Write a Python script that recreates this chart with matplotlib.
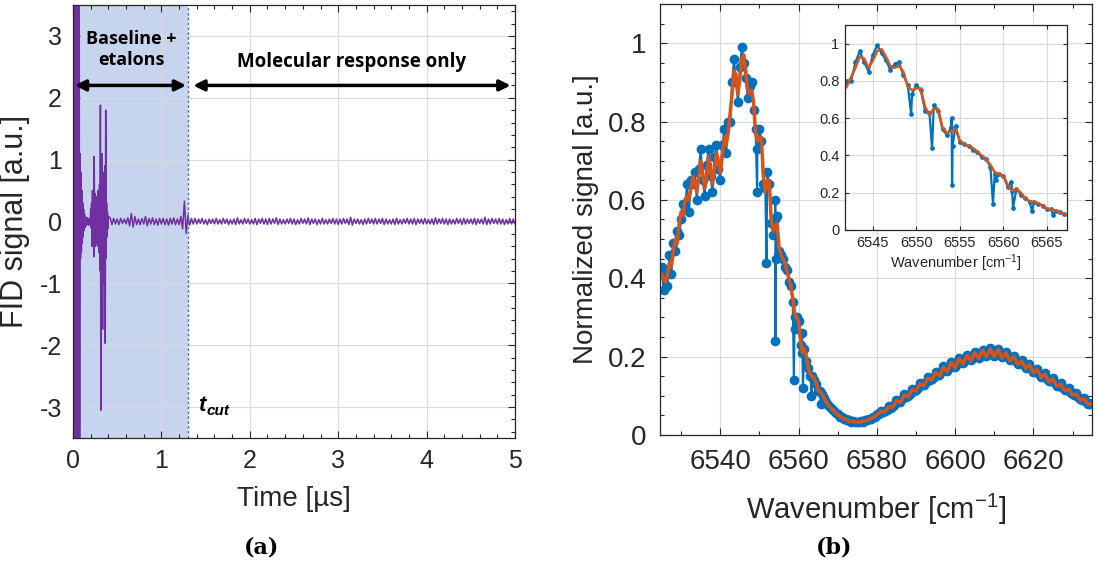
import numpy as np
import matplotlib
matplotlib.use("Agg")
import matplotlib.pyplot as plt
from matplotlib.ticker import MultipleLocator

plt.rcParams['font.family'] = ['Liberation Sans', 'DejaVu Sans']
plt.rcParams['mathtext.fontset'] = 'custom'
plt.rcParams['mathtext.rm'] = 'Liberation Sans'
plt.rcParams['mathtext.it'] = 'Liberation Sans:italic'
plt.rcParams['mathtext.bf'] = 'Liberation Sans:bold'
plt.rcParams['axes.unicode_minus'] = False

TXT = '#262626'

# ---- (a) FID trace ----
t_cut = 1.3
# first 0.4 us sampled every 5 ns
sig_early = [6, -6, 6, -6, 6, -6, 6, -6, 6, -6,
             6, -6, 5, -5, 4, -4, 1.1, -0.6, 0.8, -0.5,
             0.5, -0.35, 0.3, -0.25, 0.2, -0.15, 0.12, -0.1, 0.08, -0.07,
             0.06, -0.05, 0.06, -0.04, 0.05, -0.06, 0.04, -0.03, 0.05, -0.05,
             0.2, -0.1, 0.3, -0.4, 0.5, -0.3, 0.4, -0.57, 1.05, -0.3,
             0.45, -0.4, 0.35, -0.35, 0.4, -0.3, 0.5, -0.4, 0.45, -0.5,
             0.6, -0.8, 1.88, -3.05, 0.9, -0.9, 1.1, -1.74, 0.8, -1.0,
             0.7, -0.8, 0.9, -1.97, 1.8, -0.6, 0.3, -0.25, 0.15, -0.12,
             0.08]
# 0.42 .. 5.00 us sampled every 20 ns
sig_late = [0.06, -0.05, 0.05, -0.04, 0.04, -0.05, 0.05, -0.03, 0.04, -0.04,
            0.06, -0.07, 0.13, -0.09, 0.08, -0.05, 0.04, -0.05, 0.05, -0.04,
            0.08, -0.07, 0.05, -0.04, 0.06, -0.05, 0.04, -0.06, 0.05, -0.04,
            0.05, -0.05, 0.04, -0.06, 0.05, -0.04, 0.06, -0.05, 0.04, -0.05,
            0.08, -0.12, 0.33, -0.19, 0.10, -0.06, 0.05, -0.04, 0.05, -0.04,
            0.04, -0.03, 0.05, -0.04, 0.03, -0.05, 0.04, -0.03, 0.04, -0.04,
            0.05, -0.04, 0.03, -0.04, 0.05, -0.03, 0.04, -0.05, 0.03, -0.04,
            0.04, -0.05, 0.06, -0.04, 0.03, -0.04, 0.05, -0.03, 0.04, -0.04,
            0.03, -0.04, 0.05, -0.05, 0.04, -0.03, 0.05, -0.04, 0.04, -0.05,
            0.05, -0.04, 0.04, -0.03, 0.06, -0.05, 0.04, -0.04, 0.03, -0.04,
            0.04, -0.03, 0.05, -0.04, 0.04, -0.05, 0.03, -0.04, 0.05, -0.03,
            0.04, -0.04, 0.06, -0.05, 0.04, -0.03, 0.04, -0.05, 0.03, -0.04,
            0.05, -0.04, 0.03, -0.04, 0.04, -0.03, 0.05, -0.04, 0.04, -0.05,
            0.04, -0.04, 0.05, -0.03, 0.04, -0.05, 0.07, -0.06, 0.04, -0.03,
            0.04, -0.04, 0.03, -0.05, 0.04, -0.04, 0.05, -0.03, 0.04, -0.04,
            0.05, -0.04, 0.04, -0.03, 0.05, -0.05, 0.04, -0.04, 0.03, -0.04,
            0.04, -0.05, 0.05, -0.04, 0.03, -0.04, 0.04, -0.03, 0.05, -0.04,
            0.04, -0.04, 0.05, -0.05, 0.04, -0.03, 0.04, -0.04, 0.05, -0.04,
            0.03, -0.04, 0.04, -0.05, 0.06, -0.04, 0.04, -0.03, 0.05, -0.04,
            0.04, -0.05, 0.04, -0.04, 0.03, -0.04, 0.05, -0.03, 0.04, -0.05,
            0.05, -0.04, 0.04, -0.03, 0.04, -0.04, 0.05, -0.05, 0.04, -0.03,
            0.04, -0.04, 0.07, -0.05, 0.04, -0.04, 0.05, -0.03, 0.04, -0.04,
            0.05, -0.04, 0.04, -0.05, 0.03, -0.04, 0.05, -0.04, 0.04, -0.04]

# ---- (b) spectrum, 0.5 cm-1 grid from 6525 to 6635 ----
wn_start, wn_stop = 6525.0, 6635.0
fit_sig = [0.41, 0.40, 0.39, 0.41, 0.44, 0.43, 0.47, 0.50, 0.49, 0.54,
           0.57, 0.56, 0.60, 0.61, 0.60, 0.63, 0.66, 0.64, 0.62, 0.66,
           0.70, 0.67, 0.63, 0.66, 0.71, 0.68, 0.64, 0.68, 0.72, 0.70,
           0.67, 0.71, 0.76, 0.74, 0.77, 0.82, 0.87, 0.93, 0.92, 0.87,
           0.91, 0.96, 0.97, 0.93, 0.88, 0.87, 0.88, 0.85, 0.77, 0.75,
           0.76, 0.76, 0.66, 0.62, 0.65, 0.65, 0.55, 0.52, 0.53, 0.54,
           0.48, 0.46, 0.45, 0.44, 0.42, 0.40, 0.38, 0.35, 0.31, 0.30,
           0.29, 0.24, 0.21, 0.22, 0.20, 0.17, 0.155, 0.15, 0.145, 0.13,
           0.115, 0.11, 0.105, 0.095, 0.085, 0.078, 0.072, 0.066, 0.061, 0.056,
           0.052, 0.048, 0.045, 0.042, 0.040, 0.038, 0.036, 0.035, 0.034, 0.033,
           0.033, 0.033, 0.034, 0.035, 0.036, 0.038, 0.040, 0.042, 0.045, 0.047,
           0.052, 0.055, 0.059, 0.060, 0.059, 0.065, 0.072, 0.0715, 0.071, 0.0785,
           0.088, 0.0855, 0.083, 0.0925, 0.102, 0.0995, 0.097, 0.1065, 0.116, 0.114,
           0.112, 0.1215, 0.131, 0.1285, 0.126, 0.1355, 0.145, 0.1425, 0.140, 0.149,
           0.160, 0.155, 0.150, 0.161, 0.173, 0.167, 0.161, 0.173, 0.185, 0.1785,
           0.172, 0.1835, 0.195, 0.188, 0.181, 0.192, 0.203, 0.196, 0.189, 0.1995,
           0.210, 0.2025, 0.195, 0.2055, 0.216, 0.208, 0.200, 0.2095, 0.220, 0.210,
           0.200, 0.209, 0.218, 0.2065, 0.196, 0.203, 0.210, 0.199, 0.189, 0.1945,
           0.200, 0.1895, 0.180, 0.1845, 0.189, 0.1795, 0.170, 0.1745, 0.179, 0.169,
           0.159, 0.163, 0.167, 0.157, 0.147, 0.151, 0.155, 0.145, 0.135, 0.139,
           0.143, 0.133, 0.124, 0.127, 0.130, 0.121, 0.113, 0.115, 0.117, 0.109,
           0.102, 0.103, 0.104, 0.097, 0.090, 0.091, 0.092, 0.085, 0.078, 0.079,
           0.080]
raw_sig = [0.43, 0.37, 0.41, 0.38, 0.46, 0.41, 0.49, 0.47, 0.52, 0.51,
           0.55, 0.59, 0.58, 0.64, 0.57, 0.65, 0.64, 0.67, 0.60, 0.68,
           0.73, 0.65, 0.61, 0.69, 0.73, 0.66, 0.62, 0.71, 0.74, 0.68,
           0.65, 0.74, 0.78, 0.72, 0.80, 0.80, 0.90, 0.96, 0.90, 0.85,
           0.94, 0.99, 0.95, 0.91, 0.86, 0.89, 0.90, 0.83, 0.78, 0.73,
           0.78, 0.75, 0.64, 0.63, 0.67, 0.64, 0.54, 0.51, 0.55, 0.56,
           0.47, 0.46, 0.45, 0.43, 0.42, 0.39, 0.38, 0.34, 0.30, 0.30,
           0.29, 0.23, 0.21, 0.22, 0.19, 0.17, 0.15, 0.15, 0.14, 0.13,
           0.113, 0.112, 0.104, 0.094, 0.084, 0.077, 0.071, 0.066, 0.060, 0.055,
           0.053, 0.047, 0.046, 0.041, 0.041, 0.037, 0.037, 0.034, 0.035, 0.032,
           0.034, 0.032, 0.035, 0.034, 0.037, 0.037, 0.041, 0.041, 0.046, 0.046,
           0.053, 0.054, 0.060, 0.059, 0.061, 0.064, 0.074, 0.070, 0.073, 0.077,
           0.090, 0.084, 0.085, 0.091, 0.104, 0.098, 0.099, 0.105, 0.118, 0.113,
           0.114, 0.120, 0.133, 0.127, 0.128, 0.134, 0.147, 0.141, 0.142, 0.148,
           0.162, 0.154, 0.152, 0.160, 0.175, 0.166, 0.163, 0.172, 0.187, 0.177,
           0.174, 0.182, 0.197, 0.187, 0.183, 0.191, 0.205, 0.195, 0.191, 0.198,
           0.212, 0.201, 0.197, 0.204, 0.218, 0.207, 0.202, 0.208, 0.222, 0.209,
           0.202, 0.208, 0.220, 0.205, 0.198, 0.202, 0.212, 0.198, 0.191, 0.193,
           0.202, 0.188, 0.182, 0.183, 0.191, 0.178, 0.172, 0.173, 0.181, 0.168,
           0.161, 0.162, 0.169, 0.156, 0.149, 0.150, 0.157, 0.144, 0.137, 0.138,
           0.145, 0.132, 0.126, 0.126, 0.132, 0.120, 0.115, 0.114, 0.119, 0.108,
           0.104, 0.102, 0.106, 0.096, 0.092, 0.090, 0.094, 0.084, 0.080, 0.078,
           0.082]
# outlier points of the raw measurement
spike_wn = [6549.4, 6551.8, 6554.05, 6554.1, 6554.15, 6558.8, 6559.1,
            6560.9, 6561.1, 6563.3, 6565.7]
spike_sig = [0.62, 0.44, 0.60, 0.24, 0.45, 0.14, 0.27, 0.26, 0.12, 0.10, 0.08]

# ---------------------------------------------------------------
t_early = np.linspace(0.0, 0.4, len(sig_early))
t_late = np.linspace(0.42, 5.0, len(sig_late))
t_all = np.concatenate([t_early, t_late])
fid = np.concatenate([sig_early, sig_late])

wn = np.linspace(wn_start, wn_stop, len(fit_sig))
wn_raw = np.concatenate([wn, spike_wn])
sig_raw = np.concatenate([raw_sig, spike_sig])
order = np.argsort(wn_raw, kind='stable')
wn_raw, sig_raw = wn_raw[order], sig_raw[order]

fig = plt.figure(figsize=(11.01, 5.76), dpi=100)


def style_axes(ax, size, pad=8):
    ax.tick_params(which='both', direction='in', top=True, right=True,
                   colors=TXT, labelsize=size, width=0.8)
    ax.tick_params(which='major', length=5, pad=pad)
    ax.tick_params(which='minor', length=3)
    for s in ax.spines.values():
        s.set_color(TXT)
        s.set_linewidth(0.9)
    ax.grid(True, which='major', color='#dadada', lw=0.8)


# (a)
ax1 = fig.add_axes([0.0663, 0.2396, 0.4015, 0.7517])
ax1.axvspan(0, t_cut, color='#4472C4', alpha=0.3, lw=0)
ax1.plot(t_all, fid, color='#7030A0', lw=1.1)
ax1.axvline(t_cut, color='#4472C4', ls=(0, (2, 1.5)), lw=1)
ax1.set_xlim(0, 5)
ax1.set_ylim(-3.5, 3.5)
ax1.xaxis.set_major_locator(MultipleLocator(1))
ax1.xaxis.set_minor_locator(MultipleLocator(0.2))
ax1.yaxis.set_major_locator(MultipleLocator(1))
ax1.yaxis.set_minor_locator(MultipleLocator(0.2))
style_axes(ax1, 18)
ax1.set_xlabel('Time [µs]', fontsize=20, color=TXT, labelpad=9)
ax1.set_ylabel('FID signal [a.u.]', fontsize=22, color=TXT, labelpad=7)

arr = dict(arrowstyle='<|-|>', color='black', lw=2.5, mutation_scale=16,
           shrinkA=0, shrinkB=0)
ax1.annotate('', xy=(0.02, 2.2), xytext=(1.28, 2.2), arrowprops=arr)
ax1.annotate('', xy=(1.36, 2.2), xytext=(4.95, 2.2), arrowprops=arr)
ax1.text(0.66, 2.78, 'Baseline +\netalons', ha='center', va='center',
         fontsize=13, fontweight='bold', family=['Open Sans', 'DejaVu Sans'],
         linespacing=1.15)
ax1.text(3.15, 2.58, 'Molecular response only', ha='center', va='center',
         fontsize=13.5, fontweight='bold', family=['Open Sans', 'DejaVu Sans'])
ax1.text(1.41, -2.97, 't', ha='left', va='center', fontsize=16,
         fontweight='bold', fontstyle='italic')
ax1.annotate('cut', xy=(1.41, -2.97), xytext=(6.5, -4), textcoords='offset points',
             ha='left', va='center', fontsize=11, fontweight='bold',
             fontstyle='italic')

# (b)
blue = '#0072BD'
orange = '#D95319'
ax2 = fig.add_axes([0.5995, 0.2448, 0.3924, 0.7483])
ax2.plot(wn_raw, sig_raw, '-o', color=blue, lw=1.5, ms=6)
ax2.plot(wn, fit_sig, color=orange, lw=2.5)
ax2.set_xlim(6524.6, 6635)
ax2.set_ylim(0, 1.1)
ax2.xaxis.set_major_locator(MultipleLocator(20))
ax2.xaxis.set_minor_locator(MultipleLocator(10))
ax2.yaxis.set_minor_locator(MultipleLocator(0.05))
ax2.set_yticks([0, 0.2, 0.4, 0.6, 0.8, 1.0])
ax2.set_yticklabels(['0', '0.2', '0.4', '0.6', '0.8', '1'])
style_axes(ax2, 20, pad=10)
ax2.set_xlabel('Wavenumber [cm$^{-1}$]', fontsize=21, color=TXT, labelpad=12)
ax2.set_ylabel('Normalized signal [a.u.]', fontsize=20, color=TXT, labelpad=6)

# inset
ax3 = fig.add_axes([0.7675, 0.6007, 0.2016, 0.3559])
ax3.set_facecolor('white')
ax3.plot(wn_raw, sig_raw, '-o', color=blue, lw=1.6, ms=2.4)
ax3.plot(wn, fit_sig, color=orange, lw=1.8)
ax3.set_xlim(6541.8, 6567.3)
ax3.set_ylim(0, 1.1)
ax3.xaxis.set_major_locator(MultipleLocator(5))
ax3.set_yticks([0, 0.2, 0.4, 0.6, 0.8, 1.0])
ax3.set_yticklabels(['0', '0.2', '0.4', '0.6', '0.8', '1'])
style_axes(ax3, 10.5)
ax3.tick_params(which='major', length=3, pad=4)
ax3.set_xlabel('Wavenumber [cm$^{-1}$]', fontsize=10.5, color=TXT, labelpad=2)

fig.text(0.238, 0.049, '(a)', ha='center', va='center', fontsize=16,
         fontweight='bold', family='DejaVu Serif')
fig.text(0.758, 0.049, '(b)', ha='center', va='center', fontsize=16,
         fontweight='bold', family='DejaVu Serif')

fig.savefig('out.png', dpi=100)
